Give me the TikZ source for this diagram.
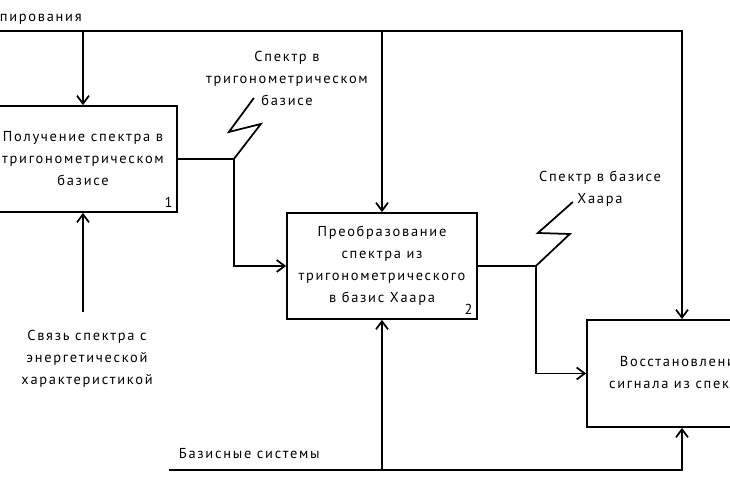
\documentclass[tikz,border=0pt]{standalone}
\usepackage{fontspec}
\setmainfont{PT Sans}
\newfontfamily\gostfont[LetterSpace=12]{PT Sans}
\usepackage{tikz}
\usetikzlibrary{arrows.meta}
\usetikzlibrary{calc}
\usetikzlibrary{positioning}
\tikzset{>={Straight Barb[length=1.6mm,width=2.4mm]}}
\tikzset{
    func/.style={draw, minimum width=3.8cm, minimum height=2.12cm, align=center, inner sep=0pt, font=\gostfont\fontsize{8.2}{12.5}\selectfont},
    lbl/.style={align=center, inner sep=0pt, font=\gostfont\fontsize{8.2}{12.5}\selectfont},
    num/.style={anchor=south east, inner sep=2.5pt, font=\gostfont\fontsize{8.2}{12.5}\selectfont}
}

\begin{document}
\begin{tikzpicture}[x=0.02cm, y=-0.02cm, line width=1pt]
    \clip (0,0) rectangle (730,486);

    % Function blocks
    \node[func, minimum width=3.76cm] (spec) at (83,159) {Получение спектра в\\тригонометрическом\\базисе};
    \node[func] (haar) at (382,266) {Преобразование\\спектра из\\тригонометрического\\в базис Хаара};
    \node[func, minimum height=2.14cm] (rest) at (682,373.5) {Восстановление\\сигнала из спектра};
    \node[num] (n1) at (spec.south east) {1};
    \node[num] (n2) at (haar.south east) {2};

    % Control
    \node[lbl, anchor=base west] (ctrltxt) at (-1,22) {пирования};
    \coordinate (ctrl) at (-10,31);
    \draw[->] (ctrl) -| (rest.north);
    \draw[->] (ctrl -| spec.north) -- (spec.north);
    \draw[->] (ctrl -| haar.north) -- (haar.north);

    % Mechanism
    \node[lbl, anchor=base west] (mechtxt) at (178,458) {Базисные системы};
    \coordinate (mech) at (169,470);
    \draw[->] (mech) -| (rest.south);
    \draw[->] (mech -| haar.south) -- (haar.south);

    % Input
    \node[lbl] (link) at (87,359) {Связь спектра с\\энергетической\\характеристикой};
    \coordinate (linkend) at (83,312);
    \draw[->] (linkend) -- (spec.south);

    % Outputs
    \draw[->] (spec.east) -- ++(56,0) coordinate (j1) |- (haar.west);
    \draw (j1) -- ++(27,-35) -- ++(-32,8) -- ++(25,-34);
    \node[lbl] (trig) at (287,78) {Спектр в\\тригонометрическом\\базисе};

    \draw[->] (haar.east) -- ++(58,0) coordinate (j2) |- (rest.west);
    \draw (j2) -- ++(34,-32) -- ++(-32,-1) -- ++(35,-31);
    \node[lbl] (haarout) at (600,189) {Спектр в базисе\\Хаара};
\end{tikzpicture}
\end{document}
